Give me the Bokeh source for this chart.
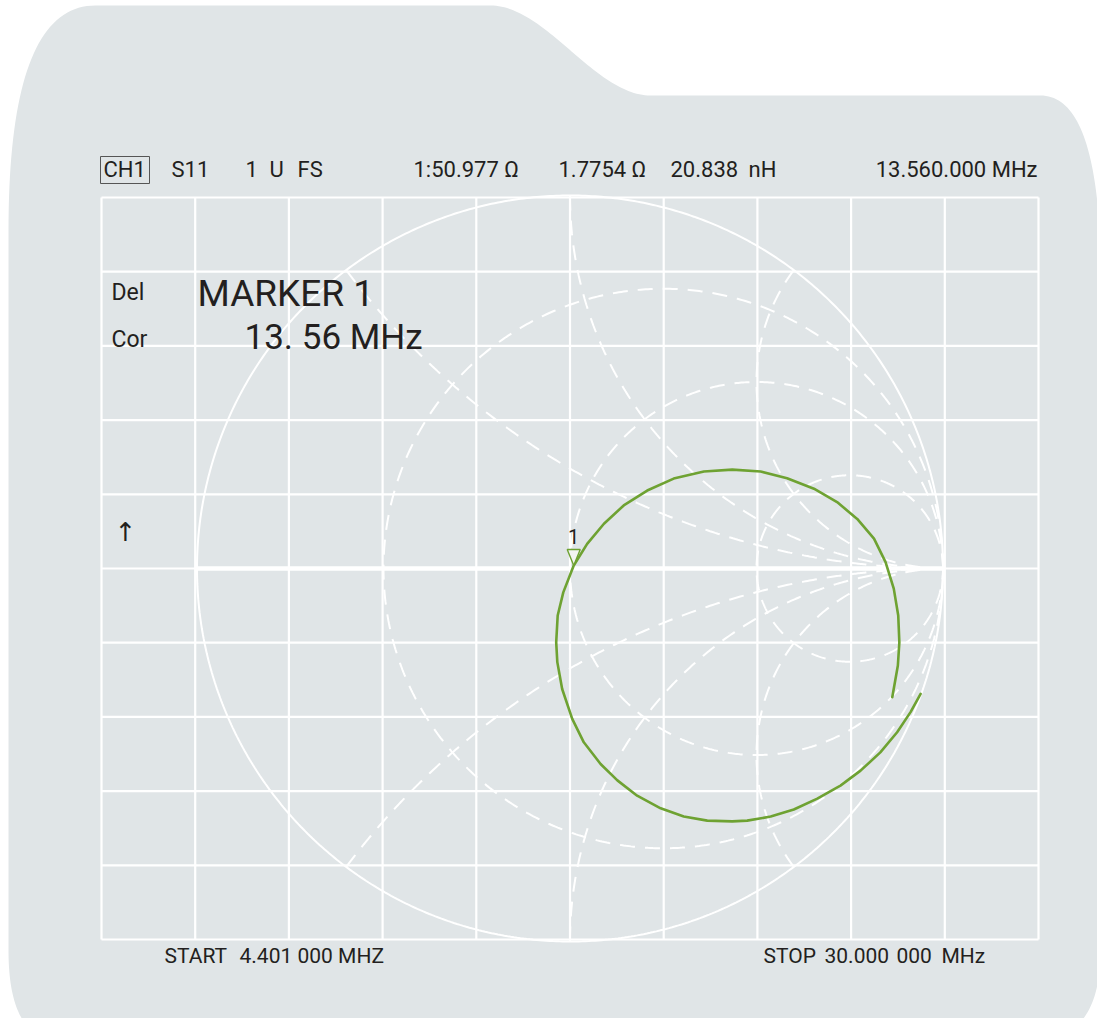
import numpy as np
from bokeh.plotting import figure
from bokeh.models import Range1d, Label
from bokeh.embed import file_html
from bokeh.resources import INLINE

# ---------------- data ----------------
# S11 trace, reflection coefficient (real, imaginary), sweep 4.401 MHz -> 30 MHz
trace_re = [0.940, 0.913, 0.877, 0.832, 0.779, 0.725, 0.663, 0.600, 0.538, 0.475,
            0.435, 0.368, 0.305, 0.243, 0.180, 0.127, 0.082, 0.037, 0.006, -0.021,
            -0.034, -0.037, -0.033, -0.018, 0.010, 0.046, 0.091, 0.144, 0.207, 0.278,
            0.359, 0.435, 0.511, 0.582, 0.654, 0.716, 0.770, 0.815, 0.846, 0.868,
            0.880, 0.883, 0.879, 0.864]
trace_im = [-0.336, -0.385, -0.439, -0.493, -0.542, -0.582, -0.617, -0.646, -0.665, -0.676,
            -0.678, -0.676, -0.665, -0.643, -0.609, -0.568, -0.524, -0.466, -0.403, -0.323,
            -0.251, -0.198, -0.126, -0.064, 0.008, 0.066, 0.120, 0.169, 0.209, 0.241,
            0.260, 0.265, 0.260, 0.242, 0.214, 0.178, 0.133, 0.080, 0.017, -0.054,
            -0.126, -0.198, -0.260, -0.345]
# marker 1 at 13.56 MHz
marker_re = 0.010
marker_im = 0.008
marker_name = "1"

# Smith chart overlay
resistance_values = [1 / 3, 1.0, 3.0]
reactance_values = [0.5, 1.0, 2.0, -0.5, -1.0, -2.0]
grid_divisions = 10

header_texts = ["CH1", "S11", "1", "U", "FS", "1:50.977 Ω", "1.7754 Ω", "20.838", "nH", "13.560.000 MHz"]
marker_side = ["Del", "Cor"]
marker_title = "MARKER 1"
marker_freq = "13. 56 MHz"
footer_texts = ["START", "4.401 000 MHZ", "STOP", "30.000", "000", "MHz"]

# ---------------- layout ----------------
W, H = 1097, 1018
CX, CY, R = 569.5, 568.0, 373.0   # pixel centre of the chart and unit radius


def dx(px):
    return (np.asarray(px, dtype=float) - CX) / R


def dy(py):
    return (CY - np.asarray(py, dtype=float)) / R


BG = "#e0e5e7"
INK = "#231f20"
GREEN = "#6ea232"
FONT = "Roboto"

p = figure(width=W, height=H,
           x_range=Range1d(float(dx(0)), float(dx(W))),
           y_range=Range1d(float(dy(H)), float(dy(0))),
           output_backend="svg", toolbar_location=None,
           x_axis_location=None, y_axis_location=None,
           min_border=0, min_border_left=0, min_border_right=0,
           min_border_top=0, min_border_bottom=0,
           outline_line_color=None, background_fill_color="white",
           border_fill_color="white")
p.grid.visible = False


# background "folder" shape
def qbez(a, b, c, n=40):
    t = np.linspace(0, 1, n)[:, None]
    a, b, c = map(np.array, (a, b, c))
    return (1 - t) ** 2 * a + 2 * (1 - t) * t * b + t ** 2 * c


def cbez(a, b, c, d, n=60):
    t = np.linspace(0, 1, n)[:, None]
    a, b, c, d = map(np.array, (a, b, c, d))
    return (1 - t) ** 3 * a + 3 * (1 - t) ** 2 * t * b + 3 * (1 - t) * t ** 2 * c + t ** 3 * d


shape = np.vstack([
    [[8, 950]],
    qbez((8, 230), (8, 5), (95, 5)),
    cbez((490, 5), (545, 5), (595, 95), (650, 95)),
    qbez((1040, 95), (1095, 95), (1100, 250)),
    qbez((1100, 950), (1100, 1035), (1040, 1040)),
    qbez((60, 1040), (8, 1040), (8, 950)),
])
p.patch(dx(shape[:, 0]), dy(shape[:, 1]), fill_color=BG, line_color=None)

# rectangular graticule
gx0, gx1, gy0, gy1 = float(dx(101)), float(dx(1038)), float(dy(939)), float(dy(197))
xs = np.linspace(gx0, gx1, grid_divisions + 1)
ys = np.linspace(gy0, gy1, grid_divisions + 1)
p.segment(x0=xs, y0=[gy0] * len(xs), x1=xs, y1=[gy1] * len(xs), line_color="white", line_width=2.2)
p.segment(x0=[gx0] * len(ys), y0=ys, x1=[gx1] * len(ys), y1=ys, line_color="white", line_width=2.2)
# real axis (thicker inside the chart)
p.line([-1, 1], [0, 0], line_color="white", line_width=4.5)

# outer circle
th = np.linspace(0, 2 * np.pi, 720)
p.line(np.cos(th), np.sin(th), line_color="white", line_width=2)

# constant resistance circles (dashed)
DASH = "15 10"
for r in resistance_values:
    c, rad = r / (1 + r), 1 / (1 + r)
    p.line(c + rad * np.cos(th), rad * np.sin(th), line_color="white",
           line_width=2, line_dash=DASH)

# constant reactance arcs (dashed)
rr = np.concatenate([[0.0], np.logspace(-3, 3, 800)])
for xv in reactance_values:
    z = rr + 1j * xv
    g = (z - 1) / (z + 1)
    p.line(g.real, g.imag, line_color="white", line_width=2, line_dash=DASH)

# measured trace
p.line(trace_re, trace_im, line_color=GREEN, line_width=2.6, line_join="round", line_cap="round")

# marker triangle + label
BASE_K = 0.41  # rendered baseline sits about 0.41 em below the requested y
tw, th_ = 6.5 / R, 16 / R
p.patch([marker_re - tw, marker_re + tw, marker_re],
        [marker_im + th_, marker_im + th_, marker_im],
        fill_color="#f2f4f0", line_color=GREEN, line_width=1.4)
p.add_layout(Label(x=marker_re, y=marker_im + (21 + BASE_K * 20) / R, text=marker_name,
                   text_font=FONT, text_font_size="20px", text_color=INK,
                   text_align="center", text_baseline="alphabetic"))


def label(txt, px, py, size=22, align="left", font=FONT):
    p.add_layout(Label(x=float(dx(px)), y=float(dy(py - BASE_K * size)), text=txt,
                       text_font=font, text_font_size=f"{size}px", text_color=INK,
                       text_align=align, text_baseline="alphabetic"))


# header line
header_x = [103, 171, 245, 269, 297, 413, 558, 670, 748, 1037]
for i, t in enumerate(header_texts):
    label(t, header_x[i], 178, align="right" if i == len(header_texts) - 1 else "left")
# box around CH1
bx = dx([100, 149, 149, 100, 100])
by = dy([156, 156, 183, 183, 156])
p.line(bx, by, line_color="#555555", line_width=1)

# marker readout
label(marker_side[0], 111, 301, size=23)
label(marker_side[1], 111, 348, size=23)
label(marker_title, 197, 308, size=37)
label(marker_freq, 244, 351, size=35)
label("↑", 125, 542, size=26, align="center", font="DejaVu Sans")

# footer
footer_x = [164, 239, 763, 824, 896, 941]
for t, fx in zip(footer_texts, footer_x):
    label(t, fx, 964, size=21)

open("out.html", "w").write(file_html(p, INLINE))
